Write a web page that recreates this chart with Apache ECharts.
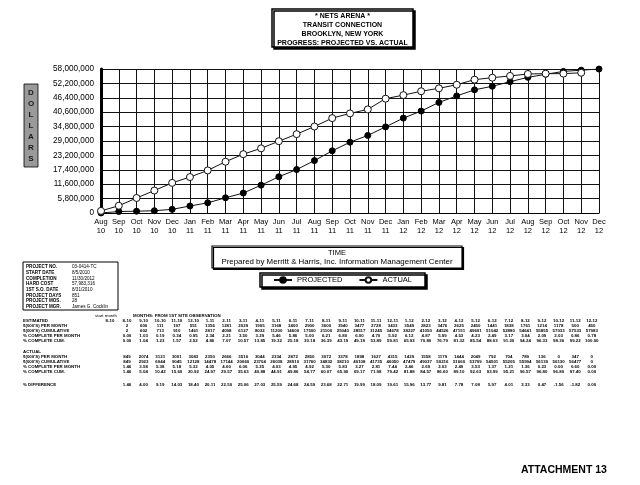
<!DOCTYPE html>
<html><head><meta charset="utf-8">
<script src="https://cdn.jsdelivr.net/npm/echarts/dist/echarts.min.js"></script>
<style>html,body{margin:0;padding:0;background:#fff}#c{width:640px;height:485px}</style>
</head><body><div id="c"></div>
<script>
const FONT = '"Liberation Sans", Arial, Helvetica, sans-serif';

// ---- chart data ($000s, cumulative) ----
const categories = ['Aug\n10','Sep\n10','Oct\n10','Nov\n10','Dec\n10','Jan\n11','Feb\n11','Mar\n11','Apr\n11','May\n11','Jun\n11','Jul\n11','Aug\n11','Sep\n11','Oct\n11','Nov\n11','Dec\n11','Jan\n12','Feb\n12','Mar\n12','Apr\n12','May\n12','Jun\n12','Jul\n12','Aug\n12','Sep\n12','Oct\n12','Nov\n12','Dec\n12'];
const projected = [2, 602, 713, 910, 1461, 2817, 4098, 6127, 8032, 11200, 14600, 17500, 21100, 25040, 28517, 31245, 34678, 38227, 41050, 44526, 47151, 49601, 51042, 52880, 54641, 55855, 57033, 57533, 57983];
const actual = [849, 2923, 6044, 9045, 12128, 14478, 17144, 20660, 23704, 26038, 28910, 31760, 34832, 38210, 40108, 41735, 46050, 47479, 49037, 50216, 51660, 53709, 54501, 55205, 55994, 56130, 56130, 56477, null];
const yMin = 0, yMax = 58000, yStep = 5800;

// ---- text content ----
const titleLines = ['* NETS ARENA *', 'TRANSIT CONNECTION', 'BROOKLYN, NEW YORK', 'PROGRESS: PROJECTED VS. ACTUAL'];
const axisTitle = 'TIME';
const preparedBy = 'Prepared by Merritt & Harris, Inc. Information Management Center';
const sideLabel = ['D','O','L','L','A','R','S'];
const infoLabels = ['PROJECT NO.', 'START DATE', 'COMPLETION', 'HARD COST', '1ST S.O. DATE', 'PROJECT DAYS', 'PROJECT MOS.', 'PROJECT MGR.'];
const infoValues = ['03-0414-TC', '8/5/2010', '11/30/2012', '57,983,316', '8/31/2010', '851', '28', 'James G. Cocklin'];
const tableMonths = ['8-10','9-10','10-10','11-10','12-10','1-11','2-11','3-11','4-11','5-11','6-11','7-11','8-11','9-11','10-11','11-11','12-11','1-12','2-12','3-12','4-12','5-12','6-12','7-12','8-12','9-12','10-12','11-12','12-12'];
const estLabels = ['ESTIMATED', "$(000'S) PER MONTH", "$(000'S) CUMULATIVE", '% COMPLETE PER MONTH', '% COMPLETE CUM.'];
const actLabels = ['ACTUAL', "$(000'S) PER MONTH", "$(000'S) CUMULATIVE", '% COMPLETE PER MONTH', '% COMPLETE CUM.'];
const diffLabel = '% DIFFERENCE';
const totalCost = 57983;

// ---- table rows derived from the cumulative values ----
function perMonth(arr){ return arr.map((v,i)=> v==null ? 0 : (i===0 ? v : v - arr[i-1])); }
function pct(v){ return v==null ? 0 : v / totalCost * 100; }
const estPM = perMonth(projected);
const actPM = perMonth(actual);
const estRows = [estPM.map(String), projected.map(String), estPM.map(v=>pct(v).toFixed(2)), projected.map(v=>pct(v).toFixed(2))];
const actRows = [actPM.map(String), actual.map(v=>v==null?'0':String(v)), actPM.map(v=>pct(v).toFixed(2)), actual.map(v=>pct(v).toFixed(2))];
const diffRow = actual.map((v,i)=> v==null ? '0.00' : (pct(v)-pct(projected[i])).toFixed(2));

// ---- graphics ----
const g = [];
function txt(x, y, s, size, opts){
  opts = opts || {};
  g.push({type:'text', silent:true, z:10, style:{x:x, y:y, text:s, fill:opts.color||'#000',
    font:(opts.weight||'normal') + ' ' + size + 'px ' + FONT,
    textAlign:opts.align||'left', textVerticalAlign:'middle'}});
}
function box(x, y, w, h, opts){
  opts = opts || {};
  g.push({type:'rect', silent:true, z:5, shape:{x:x,y:y,width:w,height:h},
    style:{fill:opts.fill||'#fff', stroke:'#000', lineWidth:opts.lw||1,
      shadowColor:opts.shadow?'#000':'rgba(0,0,0,0)', shadowOffsetX:opts.shadow||0, shadowOffsetY:opts.shadow||0, shadowBlur:0}});
}
// title box
box(272, 9, 141, 38, {lw:1.5, shadow:2});
titleLines.forEach((t,i)=> txt(342.5, 15.8 + i*9.2, t, 7.0, {weight:'bold', align:'center'}));
// side label
box(24, 84, 14, 83, {fill:'#9a9a9a', lw:0.8});
sideLabel.forEach((t,i)=> txt(31, 93 + i*11, t, 8, {weight:'bold', align:'center', color:'#1a1a1a'}));
// time box
box(212, 246, 250, 22, {lw:1.2, shadow:1.5});
txt(337, 252.5, axisTitle, 7.5, {align:'center'});
txt(337, 262, preparedBy, 7.9, {align:'center'});
// info box
box(23, 262, 95, 48, {lw:1});
infoLabels.forEach((t,i)=>{ txt(26, 267 + i*5.7, t, 4.6, {weight:'bold'}); txt(72, 267 + i*5.7, infoValues[i], 4.6); });
// table
const colX = i => 127 + i * 16.6;
const TB = {weight:'bold', align:'center'};
txt(95, 315.5, 'start month', 4.4);
txt(133, 315.5, 'MONTHS: FROM 1ST SITE OBSERVATION', 4.4, {weight:'bold'});
const estY = [321, 326, 331, 336, 341];
estLabels.forEach((t,i)=> txt(23, estY[i], t, 4.4, {weight:'bold'}));
txt(110, estY[0], tableMonths[0], 4.4, TB);
tableMonths.forEach((m,i)=> txt(colX(i), estY[0], m, 4.4, TB));
estRows.forEach((row,r)=> row.forEach((v,i)=> txt(colX(i), estY[r+1], v, 4.4, TB)));
const actY = [352, 357, 362, 367, 372];
actLabels.forEach((t,i)=> txt(23, actY[i], t, 4.4, {weight:'bold'}));
actRows.forEach((row,r)=> row.forEach((v,i)=> txt(colX(i), actY[r+1], v, 4.4, TB)));
txt(23, 385, diffLabel, 4.4, {weight:'bold'});
diffRow.forEach((v,i)=> txt(colX(i), 385, v, 4.4, TB));
// attachment
txt(521, 470, 'ATTACHMENT 13', 10.5, {weight:'bold'});

const chart = echarts.init(document.getElementById('c'), null, {renderer:'canvas'});
chart.setOption({
  animation:false,
  backgroundColor:'#fff',
  textStyle:{fontFamily:FONT},
  grid:{left:101, top:69, width:498, height:144, containLabel:false},
  legend:{
    data:['PROJECTED','ACTUAL'], left:260, top:273, orient:'horizontal',
    itemWidth:18, itemHeight:7, itemGap:16, padding:[3,13,3,13],
    textStyle:{fontSize:7.5, color:'#000', fontFamily:FONT},
    borderColor:'#000', borderWidth:1.5, backgroundColor:'#fff',
    shadowColor:'#000', shadowOffsetX:2, shadowOffsetY:2, shadowBlur:0
  },
  xAxis:{
    type:'category', data:categories, boundaryGap:false,
    axisLine:{lineStyle:{color:'#000', width:1.2}},
    axisTick:{show:false},
    splitLine:{show:true, lineStyle:{color:'#111', width:1}},
    axisLabel:{interval:0, fontSize:7.5, lineHeight:8.5, color:'#000', margin:5, fontFamily:FONT}
  },
  yAxis:{
    type:'value', min:yMin, max:yMax, interval:yStep,
    axisLine:{show:true, lineStyle:{color:'#000', width:3}},
    axisTick:{show:false},
    splitLine:{show:true, lineStyle:{color:'#111', width:1}},
    axisLabel:{fontSize:8.2, color:'#000', margin:7, fontFamily:FONT,
      formatter:v=> (v*1000).toLocaleString('en-US')}
  },
  series:[
    {name:'PROJECTED', type:'line', data:projected, symbol:'circle', symbolSize:6, showAllSymbol:true,
      lineStyle:{color:'#111', width:1}, itemStyle:{color:'#000', borderColor:'#000', borderWidth:1}, z:3},
    {name:'ACTUAL', type:'line', data:actual, symbol:'circle', symbolSize:7, showAllSymbol:true,
      lineStyle:{color:'#111', width:1}, itemStyle:{color:'#fff', borderColor:'#111', borderWidth:1}, z:4}
  ],
  graphic:g
});
</script>
</body></html>
